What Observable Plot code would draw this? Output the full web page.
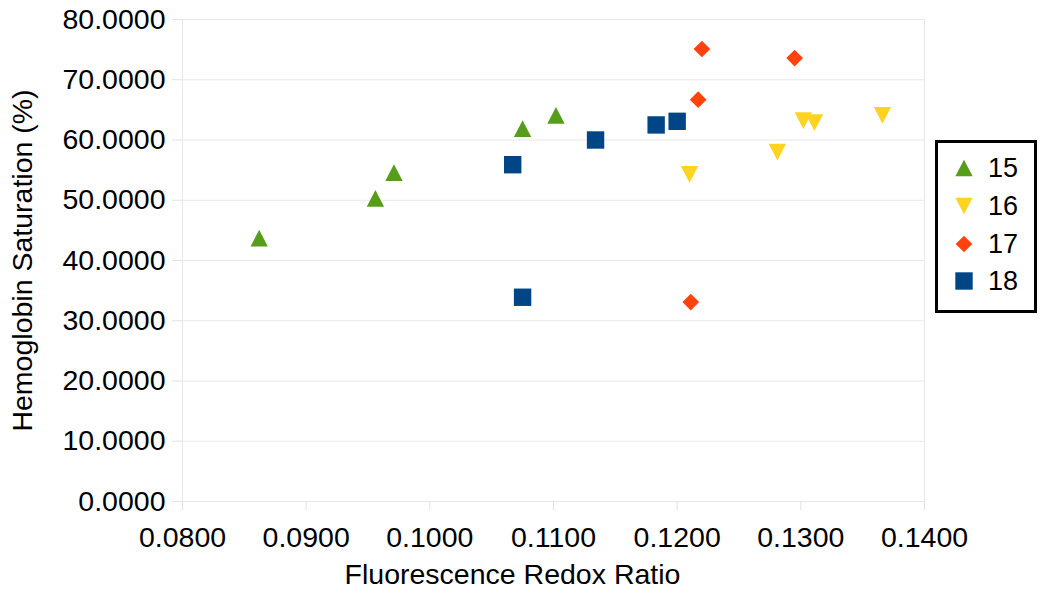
<!DOCTYPE html>
<html><head><meta charset="utf-8">
<script src="https://cdn.jsdelivr.net/npm/d3@7"></script>
<script src="https://cdn.jsdelivr.net/npm/@observablehq/plot@0.6"></script>
<style>
body{margin:0;background:#fff;font-family:"Liberation Sans",Arial,sans-serif;}
#wrap{position:relative;width:1050px;height:611px;overflow:hidden;}
#legend{position:absolute;left:935px;top:140px;width:96px;height:167px;border:3px solid #000;background:#fff;}
#legend .row{position:absolute;left:0;width:96px;height:38px;}
#legend svg{position:absolute;left:16px;top:9px;}
#legend span{position:absolute;left:50px;top:0;line-height:38px;font-size:27px;color:#000;}
</style></head><body><div id="wrap"></div>
<script>
const seriesNames = ["15", "16", "17", "18"];
const seriesColors = ["#579d1c", "#ffd320", "#ff420e", "#004586"];
const x15 = [0.0862, 0.0956, 0.0971, 0.1075, 0.1102];
const y15 = [43.7, 50.3, 54.6, 61.9, 64.1];
const x16 = [0.1210, 0.1281, 0.1302, 0.1311, 0.1366];
const y16 = [54.3, 58.0, 63.2, 62.9, 64.1];
const x17 = [0.1220, 0.1295, 0.1217, 0.1211];
const y17 = [75.1, 73.6, 66.7, 33.1];
const x18 = [0.1067, 0.1075, 0.1134, 0.1183, 0.1200];
const y18 = [55.9, 33.9, 60.0, 62.5, 63.1];
const xTicks = [0.08, 0.09, 0.10, 0.11, 0.12, 0.13, 0.14];
const yTicks = [0, 10, 20, 30, 40, 50, 60, 70, 80];
const xTitle = "Fluorescence Redox Ratio";
const yTitle = "Hemoglobin Saturation (%)";

const rad = s => Math.sqrt(s / Math.PI);
const triUp = {draw(c, s){const r = rad(s), h = r*0.96; c.moveTo(0,-h); c.lineTo(r,h); c.lineTo(-r,h); c.closePath();}};
const triDown = {draw(c, s){const r = rad(s), h = r*0.96; c.moveTo(0,h); c.lineTo(r,-h); c.lineTo(-r,-h); c.closePath();}};
const diamond = {draw(c, s){const d = rad(s)*0.96; c.moveTo(0,-d); c.lineTo(d,0); c.lineTo(0,d); c.lineTo(-d,0); c.closePath();}};
const square = {draw(c, s){const r = rad(s); c.rect(-r,-r,2*r,2*r);}};
const symbols = [triUp, triDown, diamond, square];

const xs = [x15, x16, x17, x18], ys = [y15, y16, y17, y18];
const R = 8.7;
const FS = 28.5;

const dotMarks = seriesNames.map((name, i) =>
  Plot.dot(xs[i].map((x, j) => ({x, y: ys[i][j], s: name})), {
    x: "x", y: "y", r: R, symbol: symbols[i], fill: seriesColors[i], stroke: "none"
  })
);

const chart = Plot.plot({
  width: 1050, height: 611,
  marginLeft: 182, marginRight: 126, marginTop: 19, marginBottom: 110,
  style: {fontFamily: "'Liberation Sans', Arial, sans-serif", fontSize: FS + "px", color: "#000", background: "#fff"},
  x: {domain: [0.08, 0.14], label: null},
  y: {domain: [0, 80], label: null},
  marks: [
    Plot.gridY(yTicks, {stroke: "#e8e8e8", strokeOpacity: 1}),
    Plot.frame({stroke: "#e8e8e8"}),
    Plot.axisX({ticks: xTicks, tickFormat: d3.format(".4f"), tickSize: 9, tickPadding: 16, fontSize: FS, stroke: "#e2e2e2", fill: "#000", label: null}),
    Plot.axisY({ticks: yTicks, tickFormat: d3.format(".4f"), tickSize: 10, tickPadding: 7, fontSize: FS, stroke: "#e2e2e2", fill: "#000", label: null}),
    Plot.text([xTitle], {frameAnchor: "bottom", textAnchor: "middle", dx: -41, dy: 82, fontSize: FS, fill: "#000"}),
    Plot.text([yTitle], {frameAnchor: "left", textAnchor: "middle", rotate: -90, dx: -160, fontSize: FS, fill: "#000"}),
    ...dotMarks
  ]
});

const wrap = document.getElementById("wrap");
wrap.appendChild(chart);

const legend = d3.select(wrap).append("div").attr("id", "legend");
seriesNames.forEach((name, i) => {
  const row = legend.append("div").attr("class", "row").style("top", (6 + i*37.8) + "px");
  const svg = row.append("svg").attr("width", 20).attr("height", 20);
  svg.append("path")
    .attr("transform", "translate(10,10)")
    .attr("d", d3.symbol(symbols[i], Math.PI*R*R)())
    .attr("fill", seriesColors[i]);
  row.append("span").text(name);
});
</script>
</body></html>
